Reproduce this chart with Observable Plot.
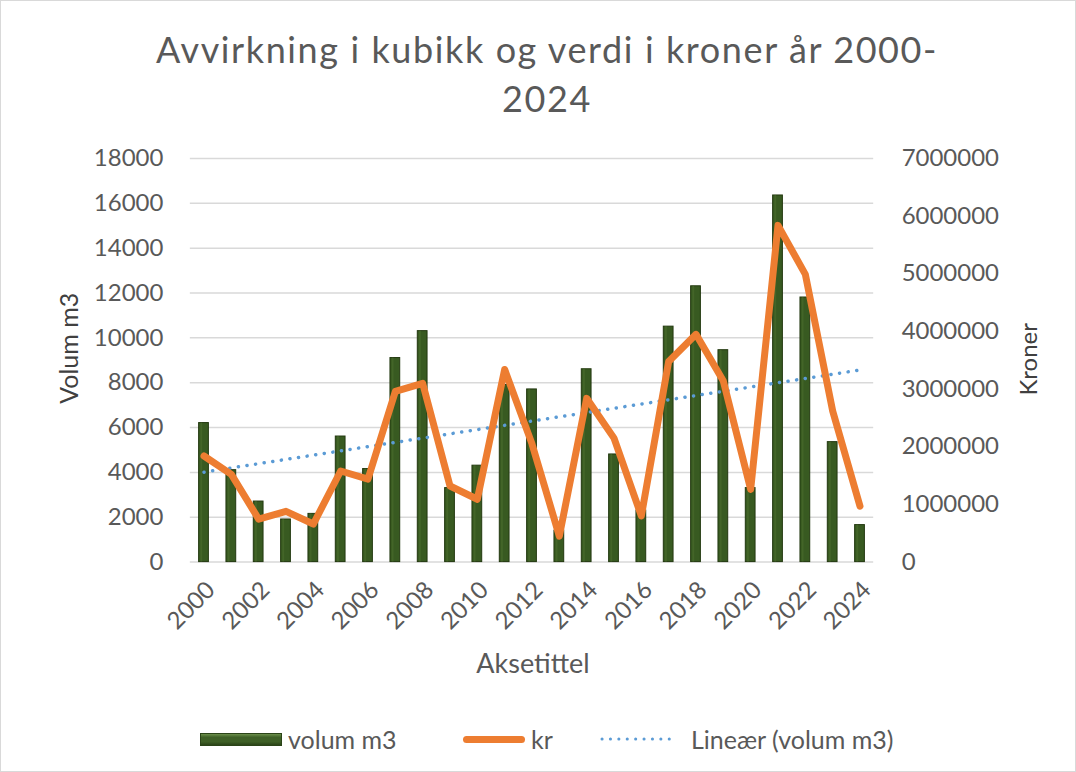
<!DOCTYPE html>
<html><head><meta charset="utf-8">
<script src="https://cdn.jsdelivr.net/npm/d3@7"></script>
<script src="https://cdn.jsdelivr.net/npm/@observablehq/plot@0.6"></script>
<style>
body{margin:0;background:#fff;font-family:Lato,"Noto Sans",sans-serif;}
#chart{position:relative;width:1074px;height:770px;border:1px solid #d9d9d9;overflow:hidden;background:#fff}
#title{position:absolute;left:0;width:1092px;top:24px;text-align:center;font-size:36px;line-height:49px;color:#595959;letter-spacing:1.6px}
#plot{position:absolute;left:-1px;top:134px}
.li{position:absolute;top:723px;height:30px;display:flex;align-items:center;font-size:25px;color:#595959;white-space:nowrap}
</style></head><body>
<div id="chart">
<div id="title">Avvirkning i kubikk og verdi i kroner år 2000-<br>2024</div>
<div id="plot"></div>
<div class="li" style="left:199px"><span style="display:inline-block;width:82px;height:13px;background:linear-gradient(#6b8f4a,#3f6027 30%,#3f6027 70%,#2b4418);border:1px solid #2b4418;box-sizing:border-box;margin-right:6px"></span>volum m3</div>
<div class="li" style="left:462px"><span style="display:inline-block;width:62px;height:7px;border-radius:4px;background:#ED7D31;margin-right:6px"></span>kr</div>
<div class="li" style="left:598px"><svg width="80" height="6" style="margin-right:12px"><line x1="3" y1="3" x2="78" y2="3" stroke="#5B9BD5" stroke-width="3" stroke-linecap="round" stroke-dasharray="0.1 8.3"/></svg>Lineær (volum m3)</div>
</div>
<script>
const years = [2000,2001,2002,2003,2004,2005,2006,2007,2008,2009,2010,2011,2012,2013,2014,2015,2016,2017,2018,2019,2020,2021,2022,2023,2024];
const volum = [6200,4100,2700,1900,2150,5600,4150,9100,10300,3300,4300,7900,7700,1400,8600,4800,2300,10500,12300,9450,3300,16350,11800,5350,1650];
const kroner = [1840000,1520000,745000,880000,660000,1580000,1440000,2960000,3100000,1320000,1090000,3340000,2050000,450000,2840000,2150000,800000,3480000,3950000,3140000,1260000,5840000,4990000,2620000,970000];
const volTicks = [0,2000,4000,6000,8000,10000,12000,14000,16000,18000];
const krTicks = [0,1000000,2000000,3000000,4000000,5000000,6000000,7000000];
const yearTicks = [2000,2002,2004,2006,2008,2010,2012,2014,2016,2018,2020,2022,2024];

const k = 18000 / 7000000;
const data = years.map((y, i) => ({year: y, volum: volum[i], kr: kroner[i] * k}));

const chart = Plot.plot({
  width: 1076, height: 556,
  marginTop: 23, marginBottom: 129, marginLeft: 190, marginRight: 202,
  x: {domain: [1999.5, 2024.5]},
  y: {domain: [0, 18000]},
  style: {fontFamily: "Lato, 'Noto Sans', sans-serif", fontSize: "24px", color: "#595959", background: "transparent", overflow: "visible"},
  marks: [
    Plot.gridY(volTicks, {stroke: "#d9d9d9", strokeOpacity: 1, strokeWidth: 1.5}),
    Plot.rectY(data, {x1: d => d.year - 0.5, x2: d => d.year + 0.5, y: "volum", insetLeft: 8.8, insetRight: 8.8, fill: "#385a21", stroke: "#22380f", strokeWidth: 1}),
    Plot.rectY(data, {x1: d => d.year - 0.5, x2: d => d.year + 0.5, y: "volum", insetLeft: 10.5, insetRight: 15, fill: "#4c7030", fillOpacity: 0.55}),
    Plot.linearRegressionY(data, {x: "year", y: "volum", stroke: "#5B9BD5", strokeWidth: 3.5, strokeDasharray: "0.1 8.6", strokeLinecap: "round", ci: 0}),
    Plot.line(data, {x: "year", y: "kr", stroke: "#ED7D31", strokeWidth: 7, strokeLinejoin: "round", strokeLinecap: "round"}),
    Plot.axisY({ticks: volTicks, tickSize: 0, tickPadding: 27, label: null, tickFormat: d => String(d), fill: "#595959"}),
    Plot.axisY({anchor: "right", ticks: krTicks.map(v => v * k), tickSize: 0, tickPadding: 28, label: null, tickFormat: d => String(Math.round(d / k)), fill: "#595959"}),
    Plot.axisX({ticks: yearTicks, tickSize: 0, tickRotate: -45, tickPadding: 10, dx: 7, dy: 14, label: null, tickFormat: d => String(d), fill: "#595959"}),
    Plot.text(["Volum m3"], {frameAnchor: "left", textAnchor: "middle", lineAnchor: "middle", dx: -120, dy: -12, rotate: -90, fontSize: 25, fill: "#404040"}),
    Plot.text(["Kroner"], {frameAnchor: "right", textAnchor: "middle", lineAnchor: "middle", dx: 156, dy: -1, rotate: -90, fontSize: 24, fill: "#404040"}),
    Plot.text(["Aksetittel"], {frameAnchor: "bottom", textAnchor: "middle", lineAnchor: "middle", dx: 1, dy: 102, fontSize: 27, fill: "#595959"})
  ]
});
document.getElementById("plot").appendChild(chart);
</script>
</body></html>
